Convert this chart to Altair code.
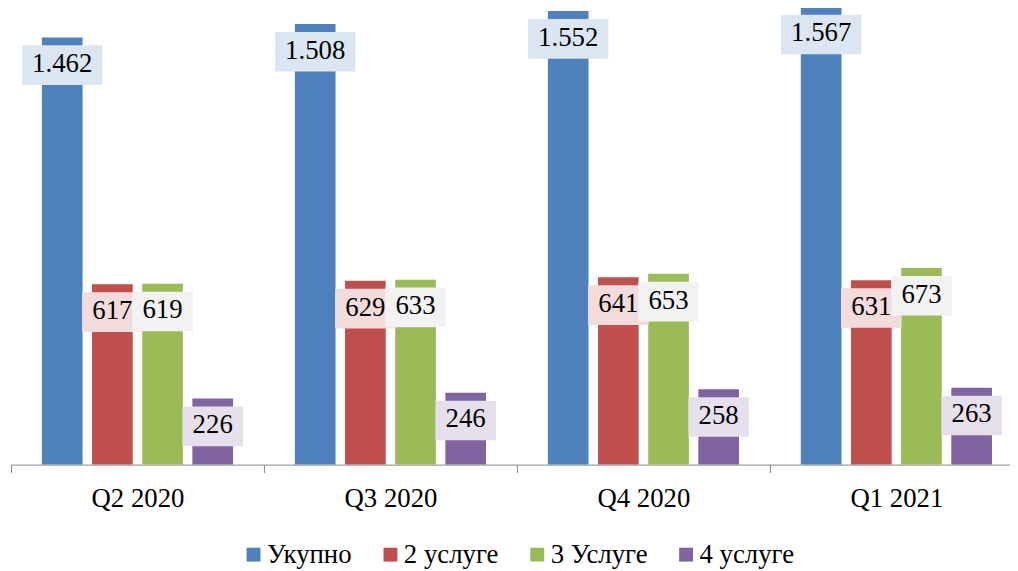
import altair as alt
import pandas as pd

quarters = ["Q2 2020", "Q3 2020", "Q4 2020", "Q1 2021"]
series = ["Укупно", "2 услуге", "3 Услуге", "4 услуге"]
ukupno = [1462, 1508, 1552, 1567]
usluge2 = [617, 629, 641, 631]
usluge3 = [619, 633, 653, 673]
usluge4 = [226, 246, 258, 263]

bar_colors = ["#4F81BD", "#C0504D", "#9BBB59", "#8064A2"]
box_colors = ["#DCE6F2", "#F2DCDB", "#F2F2F2", "#E6E0EC"]
box_widths = [81, 61, 61, 61]

rows = []
for qi, q in enumerate(quarters):
    for s, vals in zip(series, [ukupno, usluge2, usluge3, usluge4]):
        v = vals[qi]
        rows.append({"quarter": q, "series": s, "value": v,
                     "label": f"{v:,}".replace(",", ".")})
df = pd.DataFrame(rows)

FONT = "Liberation Serif"

x_enc = alt.X("quarter:N", sort=quarters, title=None,
              scale=alt.Scale(domain=quarters, paddingInner=0, paddingOuter=0,
                              range=[0, 1020]),
              axis=alt.Axis(labelAngle=0, tickBand="extent", domainColor="#868686",
                            tickColor="#868686", tickSize=8, labelFont=FONT,
                            labelFontSize=27, labelColor="#000000",
                            labelBaseline="middle", labelPadding=26, grid=False))
xo_enc = alt.XOffset("series:N", sort=series,
                     scale=alt.Scale(domain=series, paddingInner=0.196, paddingOuter=0.62))
y_scale = alt.Scale(domain=[0, 1555], nice=False, zero=True)

base = alt.Chart(df)

bars = base.mark_bar(width=41).encode(
    x=x_enc,
    xOffset=xo_enc,
    y=alt.Y("value:Q", scale=y_scale, axis=None),
    color=alt.Color("series:N", sort=series,
                    scale=alt.Scale(domain=series, range=bar_colors),
                    legend=alt.Legend(title=None, orient="none", direction="horizontal",
                                      legendX=231, legendY=535, padding=0,
                                      symbolType="square", symbolSize=196,
                                      symbolStrokeWidth=0, labelFont=FONT,
                                      labelFontSize=27, labelColor="#000000",
                                      labelOffset=0, columnPadding=25)),
)

layers = [bars]
for s, bc, bw in zip(series, box_colors, box_widths):
    sub = base.transform_filter(alt.datum.series == s)
    box = sub.mark_bar(width=bw, color=bc, yOffset=8, y2Offset=48).encode(
        x=alt.X("quarter:N", sort=quarters),
        xOffset=alt.XOffset("series:N", sort=series),
        y=alt.Y("value:Q"),
        y2=alt.Y2("value"),
    )
    txt = sub.mark_text(font=FONT, fontSize=27, color="#000000",
                        baseline="middle", dy=27).encode(
        x=alt.X("quarter:N", sort=quarters),
        xOffset=alt.XOffset("series:N", sort=series),
        y=alt.Y("value:Q"),
        text="label:N",
    )
    layers += [box, txt]

chart = alt.layer(*layers).properties(
    width=1000, height=458,
    autosize=alt.AutoSizeParams(type="none"),
    padding={"left": 3, "top": 0, "right": 7, "bottom": 105},
).configure_view(stroke=None)

chart.save("out.html", embed_options={"renderer": "svg", "actions": False})
